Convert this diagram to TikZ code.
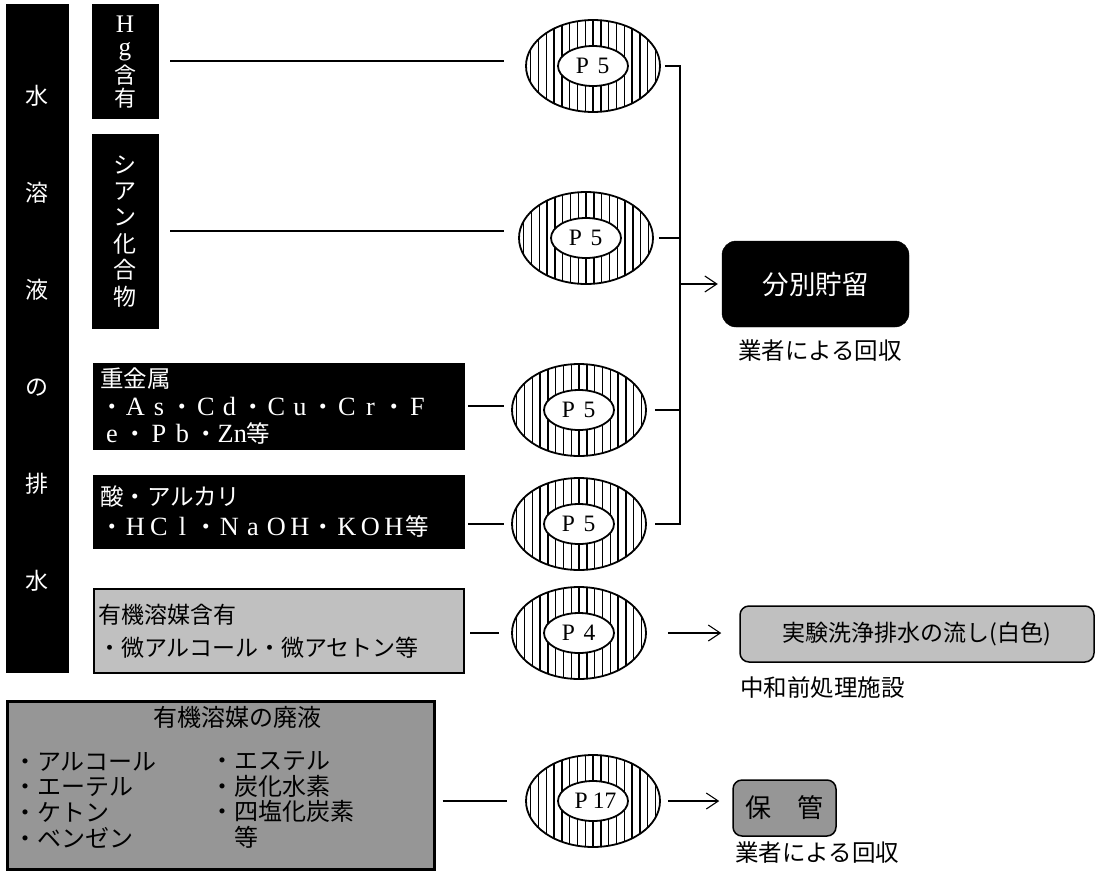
\documentclass[tikz,border=0pt]{standalone}
\usepackage{fontspec}
\setmainfont{Liberation Serif}
\newfontfamily\jp{Noto Sans CJK JP}
\usetikzlibrary{shapes.geometric,arrows.meta}
\definecolor{lg}{RGB}{192,192,192}
\definecolor{dg}{RGB}{150,150,150}
\newcommand\fw[1]{\makebox[1em]{\rmfamily\scalebox{1.12}{#1}}}
\begin{document}
\begin{tikzpicture}[x=1pt,y=-1pt,
  blk/.style={draw=black,fill=black,text=white,inner sep=0pt},
  conn/.style={line width=2.2pt},
  arr/.style={line width=1.1pt,-{Straight Barb[length=12pt,width=16pt]}},
  hatchell/.style={ellipse,draw,line width=1.8pt,minimum width=134pt,minimum height=92pt,inner sep=0pt,
    path picture={\foreach \k in {-8,...,8}{\draw[line width=1.4pt] ([xshift=\k*7.8pt]path picture bounding box.north) -- ([xshift=\k*7.8pt]path picture bounding box.south);}}},
  innerell/.style={ellipse,draw,fill=white,line width=1.8pt,minimum width=70pt,minimum height=40pt,inner sep=0pt,font=\rmfamily\fontsize{21}{22}\selectfont},
  jpf/.style={font=\jp\fontsize{#1}{#1}\selectfont}
]
\useasboundingbox (0,0) rectangle (1097,870);

% left bar
\node[blk,minimum width=62pt,minimum height=668pt,anchor=north west,align=center,font=\jp\fontsize{23}{97}\selectfont] (bar) at (6,4) {水\\溶\\液\\の\\排\\水};

% Hg box
\node[blk,minimum width=66pt,minimum height=114pt,anchor=north west] (hg) at (92,4) {};
\node[text=white,inner sep=0pt,align=center,font=\jp\fontsize{22}{23}\selectfont] (hgt) at (125,62) {{\rmfamily\scalebox{1.15}{H}}\\{\rmfamily\scalebox{1.15}{g}}\\[3pt]含\\有};

% cyanide box
\node[blk,minimum width=66pt,minimum height=194pt,anchor=north west,align=center,font=\jp\fontsize{23}{26.4}\selectfont] (cy) at (92,134) {シ\\ア\\ン\\化\\合\\物};

% heavy metals
\node[blk,minimum width=371pt,minimum height=86pt,anchor=north west,inner xsep=7pt,text width=357pt,align=left,font=\jp\fontsize{23.5}{27.5}\selectfont] (hv) at (93,363)
 {重金属\\・\fw{A}\fw{s}・\fw{C}\fw{d}・\fw{C}\fw{u}・\fw{C}\fw{r}・\fw{F}\\\fw{e}・\fw{P}\fw{b}・{\rmfamily\scalebox{1.12}{Zn}}等};

% acid / alkali
\node[blk,minimum width=371pt,minimum height=73pt,anchor=north west,inner xsep=7pt,text width=357pt,align=left,font=\jp\fontsize{23.5}{30}\selectfont] (ac) at (93,475)
 {酸・アルカリ\\・\fw{H}\fw{C}\fw{l}・\fw{N}\fw{a}\fw{O}\fw{H}・\fw{K}\fw{O}\fw{H}等};

% organic solvent containing
\node[draw,fill=lg,line width=2pt,minimum width=370pt,minimum height=84pt,anchor=north west,inner xsep=4pt,text width=362pt,align=left,font=\jp\fontsize{23}{33}\selectfont] (org) at (93,588)
 {有機溶媒含有\\・微アルコール・微アセトン等};

% organic solvent waste
\node[draw,fill=dg,line width=2.5pt,minimum width=427pt,minimum height=168pt,anchor=north west,inner sep=0pt] (ws) at (6,700) {};
\node[jpf=24] (wst) at (237,717) {有機溶媒の廃液};
\node[anchor=west,align=left,inner sep=0pt,font=\jp\fontsize{24}{25.7}\selectfont] (wsl) at (13,800) {・アルコール\\・エーテル\\・ケトン\\・ベンゼン};
\node[anchor=west,align=left,inner sep=0pt,font=\jp\fontsize{24}{25.7}\selectfont] (wsr) at (210,800) {・エステル\\・炭化水素\\・四塩化炭素\\\hspace*{1em}等};

% ellipses
\node[hatchell] (e1) at (593,66) {};
\node[innerell] (p1) at (e1) {\fw{P}\fw{5}};
\node[hatchell] (e2) at (586,238) {};
\node[innerell] (p2) at (e2) {\fw{P}\fw{5}};
\node[hatchell] (e3) at (579,410) {};
\node[innerell] (p3) at (e3) {\fw{P}\fw{5}};
\node[hatchell] (e4) at (579,524) {};
\node[innerell] (p4) at (e4) {\fw{P}\fw{5}};
\node[hatchell] (e5) at (579,633) {};
\node[innerell] (p5) at (e5) {\fw{P}\fw{4}};
\node[hatchell] (e6) at (593,801) {};
\node[innerell] (p6) at (e6) {\makebox[1.1em]{\scalebox{1.12}{P}}\scalebox{1.12}{17}};

% right side boxes
\node[blk,rounded corners=14pt,minimum width=187pt,minimum height=86pt,font=\jp\fontsize{26.5}{28}\selectfont] (sort) at (815.5,284) {分別貯留};
\node[jpf=23.5] (sortcap) at (820,351) {業者による回収};
\node[draw,fill=lg,rounded corners=9pt,line width=1.5pt,minimum width=354pt,minimum height=56pt,jpf=23] (rinse) at (917,634) {実験洗浄排水の流し(白色)};
\node[anchor=west,inner sep=0pt,jpf=23.5] (neut) at (740,688) {中和前処理施設};
\node[draw,fill=dg,rounded corners=9pt,line width=1.5pt,minimum width=103pt,minimum height=56pt,jpf=26] (keep) at (784.5,808) {保　管};
\node[anchor=west,inner sep=0pt,jpf=23.5] (keepcap) at (735,853) {業者による回収};

% connectors left
\draw[conn,shorten <=12pt,shorten >=21pt] (hg.east) -- (hg.east -| e1.west);
\draw[conn,shorten <=12pt,shorten >=14pt] (cy.east) -- (cy.east -| e2.west);
\draw[conn,shorten <=4pt,shorten >=7pt] (hv.east) -- (hv.east -| e3.west);
\draw[conn,shorten <=4pt,shorten >=7pt] (ac.east |- e4) -- (e4.west);
\draw[conn,shorten <=5pt,shorten >=12pt] (org.east |- e5) -- (e5.west);
\draw[conn,shorten <=7pt,shorten >=18pt] (ws.east |- e6) -- (e6.west);

% bracket
\coordinate (bt) at (680,66);
\draw[conn] ([xshift=4pt]e1.east) -- (e1.east -| bt) -- (e4.east -| bt) -- ([xshift=8pt]e4.east);
\draw[conn,shorten <=5pt] (e2.east) -- (e2.east -| bt);
\draw[conn,shorten <=8pt] (e3.east) -- (e3.east -| bt);

% arrows
\draw[arr,shorten >=4pt] (bt |- sort) -- (sort.west);
\draw[arr,shorten <=21pt,shorten >=18pt] (e5.east) -- (rinse.west |- e5);
\draw[arr,shorten <=7pt,shorten >=13pt] (e6.east) -- (keep.west |- e6);
\end{tikzpicture}
\end{document}
